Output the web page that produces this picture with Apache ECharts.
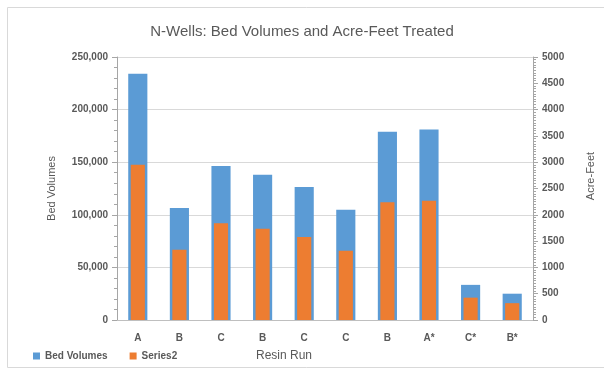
<!DOCTYPE html>
<html lang="en">
<head>
  <meta charset="UTF-8">
  <title>N-Wells</title>
  <script src="https://cdn.jsdelivr.net/npm/echarts@6/dist/echarts.min.js"></script>
  <style>
    html, body { margin: 0; padding: 0; background: #fff; }
  </style>
</head>
<body>
  <div id="chart" style="width: 604px; height: 371px;"></div>
  <script>
    // resin runs along the bottom
    var runs = ['A', 'B', 'C', 'B', 'C', 'C', 'B', 'A*', 'C*', 'B*']
    // bed volumes (left axis)
    var bedVolumes = [234000, 106500, 146500, 138000, 126500, 104800, 179000, 181200, 33400, 25000]
    // acre-feet treated (right axis), shown as "Series2" in the legend
    var acreFeet = [2950, 1335, 1840, 1735, 1580, 1315, 2240, 2265, 425, 320]

    var txt = '#595959'
    var font = 'Liberation Sans'

    var chart = echarts.init(document.getElementById('chart'))
    var option = {
      animation: false,
      textStyle: { fontFamily: font },
      title: {
        text: 'N-Wells: Bed Volumes and Acre-Feet Treated',
        left: 'center',
        top: 19,
        textStyle: { fontSize: 15, fontWeight: 'normal', color: txt, fontFamily: font }
      },
      legend: {
        left: 28,
        bottom: 5,
        itemWidth: 7,
        itemHeight: 7,
        itemGap: 22,
        icon: 'rect',
        textStyle: { fontSize: 10, fontWeight: 'bold', color: txt },
        data: ['Bed Volumes', 'Series2']
      },
      graphic: [{
        type: 'rect',
        shape: { x: 7.5, y: 7.5, width: 600, height: 360 },
        style: { fill: 'none', stroke: '#d9d9d9', lineWidth: 1 },
        silent: true
      }],
      grid: { left: 117, right: 66, top: 57, bottom: 51 },
      xAxis: [{
        type: 'category',
        data: runs,
        name: 'Resin Run',
        nameLocation: 'middle',
        nameGap: 30,
        nameTextStyle: { fontSize: 12, color: txt, padding: [0, 82, 0, 0] },
        axisLine: { lineStyle: { color: '#bfbfbf' } },
        axisTick: { show: false },
        axisLabel: { fontSize: 10, fontWeight: 'bold', color: txt, margin: 13 }
      }, {
        type: 'category',
        data: runs,
        show: false
      }],
      yAxis: [{
        type: 'value',
        min: 0,
        max: 250000,
        interval: 50000,
        name: 'Bed Volumes',
        nameLocation: 'middle',
        nameGap: 60,
        nameTextStyle: { fontSize: 11, color: txt },
        axisLine: { show: true, lineStyle: { color: '#a6a6a6' } },
        axisTick: { show: true, length: 5, lineStyle: { color: '#a6a6a6' } },
        minorTick: { show: true, splitNumber: 5, length: 3, lineStyle: { color: '#a6a6a6' } },
        axisLabel: {
          fontSize: 10, fontWeight: 'bold', color: txt, margin: 9,
          formatter: function (v) { return v.toLocaleString('en-US') }
        },
        splitLine: { lineStyle: { color: '#d9d9d9' } }
      }, {
        type: 'value',
        min: 0,
        max: 5000,
        interval: 500,
        position: 'right',
        name: 'Acre-Feet',
        nameLocation: 'middle',
        nameGap: 52,
        nameRotate: 90,
        nameTextStyle: { fontSize: 11, color: txt, padding: [0, 0, 0, 25] },
        axisLine: { show: true, lineStyle: { color: '#a6a6a6' } },
        axisTick: { show: true, length: 5, lineStyle: { color: '#a6a6a6' } },
        minorTick: { show: true, splitNumber: 10, length: 3, lineStyle: { color: '#a6a6a6' } },
        axisLabel: {
          fontSize: 10, fontWeight: 'bold', color: txt, margin: 9,
          formatter: function (v) { return String(v) }
        },
        splitLine: { show: false }
      }],
      series: [{
        name: 'Bed Volumes',
        type: 'bar',
        data: bedVolumes,
        xAxisIndex: 0,
        yAxisIndex: 0,
        barWidth: '46%',
        itemStyle: { color: '#5B9BD5' }
      }, {
        name: 'Series2',
        type: 'bar',
        data: acreFeet,
        xAxisIndex: 1,
        yAxisIndex: 1,
        barWidth: '34%',
        z: 3,
        itemStyle: { color: '#ED7D31' }
      }]
    }
    chart.setOption(option)
  </script>
</body>
</html>
